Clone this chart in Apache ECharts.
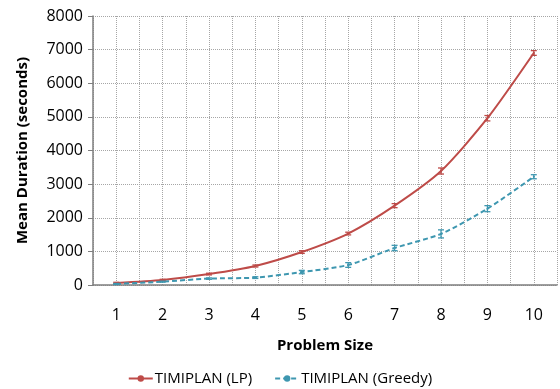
<!DOCTYPE html>
<html><head><meta charset="utf-8">
<script src="https://cdn.jsdelivr.net/npm/echarts@6/dist/echarts.min.js"></script>
<style>html,body{margin:0;padding:0;background:#fff}#c{width:560px;height:389px}</style>
</head><body><div id="c"></div>
<script>
const categories = ['1','2','3','4','5','6','7','8','9','10'];
const lpValues = [60, 150, 325, 565, 980, 1530, 2360, 3390, 4960, 6900];
const lpErrors = [20, 20, 25, 30, 40, 40, 60, 90, 80, 70];
const greedyValues = [30, 100, 190, 220, 385, 595, 1100, 1520, 2270, 3220];
const greedyErrors = [15, 15, 20, 25, 50, 70, 80, 120, 90, 60];
const yTicks = [0, 8000, 1000];
const LP = '#BE4B48', GR = '#3E97B0';
const FONT = 'Open Sans';

function errSeries(vals, errs, color) {
  return {
    type: 'custom', xAxisIndex: 0, yAxisIndex: 0, silent: true, z: 5,
    data: vals.map((v, i) => [i, v - errs[i], v + errs[i]]),
    renderItem: function (params, api) {
      const lo = api.coord([api.value(0), api.value(1)]);
      const hi = api.coord([api.value(0), api.value(2)]);
      const w = 3;
      const st = { stroke: color, lineWidth: 1.3 };
      return { type: 'group', children: [
        { type: 'line', shape: { x1: lo[0], y1: lo[1], x2: hi[0], y2: hi[1] }, style: st },
        { type: 'line', shape: { x1: lo[0]-w, y1: lo[1], x2: lo[0]+w, y2: lo[1] }, style: st },
        { type: 'line', shape: { x1: hi[0]-w, y1: hi[1], x2: hi[0]+w, y2: hi[1] }, style: st }
      ]};
    }
  };
}

const chart = echarts.init(document.getElementById('c'));
chart.setOption({
  animation: false,
  grid: { left: 93, right: 3, top: 16, bottom: 104, containLabel: false },
  legend: {
    bottom: -2, left: 'center', itemGap: 22, itemWidth: 24, itemHeight: 8,
    textStyle: { fontFamily: FONT, fontSize: 15, color: '#000', padding: [0, 0, 0, -3] },
    data: ['TIMIPLAN (LP)', 'TIMIPLAN (Greedy)']
  },
  xAxis: [{
    type: 'category', data: categories, boundaryGap: true,
    name: 'Problem Size', nameLocation: 'middle', nameGap: 53,
    nameTextStyle: { fontFamily: FONT, fontSize: 15, fontWeight: 'bold', color: '#000' },
    axisLine: { lineStyle: { color: '#7f7f7f', width: 1.5 } },
    axisTick: { alignWithLabel: true, length: 5, lineStyle: { color: '#7f7f7f' } },
    axisLabel: { fontFamily: FONT, fontSize: 16, color: '#000', margin: 22 },
    splitLine: { show: false }
  }, {
    type: 'value', min: 0.5, max: 10.5, interval: 0.5, position: 'bottom',
    axisLine: { show: false }, axisTick: { show: false }, axisLabel: { show: false },
    splitLine: { show: true, lineStyle: { color: '#a6a6a6', type: [1, 1], width: 1 } }
  }],
  yAxis: {
    type: 'value', min: yTicks[0], max: yTicks[1], interval: yTicks[2],
    name: 'Mean Duration (seconds)', nameLocation: 'middle', nameGap: 63,
    nameTextStyle: { fontFamily: FONT, fontSize: 15, fontWeight: 'bold', color: '#000' },
    axisLine: { show: true, lineStyle: { color: '#7f7f7f', width: 1.5 } },
    axisTick: { show: true, length: 5, lineStyle: { color: '#7f7f7f' } },
    axisLabel: { fontFamily: FONT, fontSize: 16, color: '#000', margin: 10, formatter: v => String(v) },
    splitLine: { show: true, lineStyle: { color: '#a6a6a6', type: [1, 1], width: 1 } }
  },
  series: [{
    name: 'TIMIPLAN (LP)', type: 'line', data: lpValues, smooth: 0.25,
    symbol: 'circle', symbolSize: 2, color: LP,
    lineStyle: { color: LP, width: 2 }, itemStyle: { color: LP }, z: 4
  }, {
    name: 'TIMIPLAN (Greedy)', type: 'line', data: greedyValues, smooth: 0.25,
    symbol: 'circle', symbolSize: 2, color: GR,
    lineStyle: { color: GR, width: 2, type: [5, 3] }, itemStyle: { color: GR }, z: 4
  },
  errSeries(lpValues, lpErrors, LP),
  errSeries(greedyValues, greedyErrors, GR)]
});
</script></body></html>
